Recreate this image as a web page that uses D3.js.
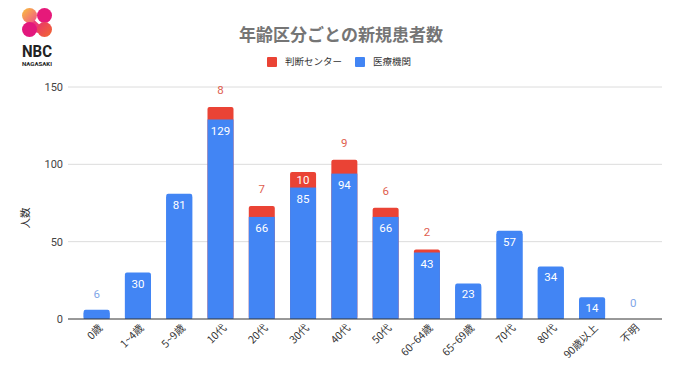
<!DOCTYPE html>
<html>
<head>
<meta charset="utf-8">
<script src="https://cdn.jsdelivr.net/npm/d3@7"></script>
<style>
  body { margin: 0; background: #fff; }
  text { font-family: Roboto, "Noto Sans CJK JP", sans-serif; }
</style>
</head>
<body>
<svg id="chart" width="680" height="382"></svg>
<script>
//chart data
var categories = ["0歳", "1~4歳", "5~9歳", "10代", "20代", "30代", "40代", "50代", "60~64歳", "65~69歳", "70代", "80代", "90歳以上", "不明"];
var clinicValues = [6, 30, 81, 129, 66, 85, 94, 66, 43, 23, 57, 34, 14, 0];   //医療機関
var centerValues = [0, 0, 0, 8, 7, 10, 9, 6, 2, 0, 0, 0, 0, 0];            //判断センター
var yTicks = [0, 50, 100, 150];
var seriesNames = ["判断センター", "医療機関"];

var blue = "#4285f4",
	red = "#ea4335",
	jpFont = "'Noto Sans CJK JP', sans-serif";

var svg = d3.select("#chart");

var x = d3.scaleBand()
	.domain(categories)
	.range([76, 654])
	.paddingInner(0.37)
	.paddingOuter(0.185);

var y = d3.scaleLinear()
	.domain([0, 150])
	.range([319, 87]);

//gridlines + y labels
svg.append("g").selectAll("line")
	.data(yTicks.filter(function(d){ return d > 0; }))
	.enter().append("line")
	.attr("x1", 68).attr("x2", 662)
	.attr("y1", function(d){ return y(d); })
	.attr("y2", function(d){ return y(d); })
	.attr("stroke", "#dcdcdc")
	.attr("stroke-width", 1);

svg.append("g").selectAll("text")
	.data(yTicks)
	.enter().append("text")
	.attr("x", 63)
	.attr("y", function(d){ return y(d); })
	.attr("dy", "0.35em")
	.attr("text-anchor", "end")
	.attr("font-size", 11)
	.attr("fill", "#444")
	.text(function(d){ return d; });

//bars
var rows = categories.map(function(c, i){
	return {cat: c, clinic: clinicValues[i], center: centerValues[i]};
});

var bars = svg.append("g");
rows.forEach(function(d){
	var bx = x(d.cat), bw = x.bandwidth();
	var total = d.clinic + d.center;
	if (d.center > 0) {
		//red on top, rounded top corners
		bars.append("rect")
			.attr("x", bx).attr("width", bw)
			.attr("y", y(total))
			.attr("height", y(0) - y(total))
			.attr("rx", 2)
			.attr("fill", red);
		bars.append("rect")
			.attr("x", bx).attr("width", bw)
			.attr("y", y(d.clinic))
			.attr("height", y(0) - y(d.clinic))
			.attr("fill", blue);
	} else if (d.clinic > 0) {
		bars.append("rect")
			.attr("x", bx).attr("width", bw)
			.attr("y", y(d.clinic))
			.attr("height", y(0) - y(d.clinic))
			.attr("rx", 2)
			.attr("fill", blue);
		bars.append("rect")
			.attr("x", bx).attr("width", bw)
			.attr("y", y(d.clinic) + 3)
			.attr("height", Math.max(0, y(0) - y(d.clinic) - 3))
			.attr("fill", blue);
	}
});

//value labels
var labels = svg.append("g").attr("font-size", 11.5);
rows.forEach(function(d){
	var cx = x(d.cat) + x.bandwidth() / 2;
	var hBlue = y(0) - y(d.clinic);
	if (hBlue >= 16) {
		labels.append("text").attr("x", cx).attr("y", y(d.clinic) + 11)
			.attr("dy", "0.35em").attr("text-anchor", "middle")
			.attr("fill", "#fff").text(d.clinic);
	} else if (d.center == 0) {
		labels.append("text").attr("x", cx).attr("y", y(d.clinic) - 16)
			.attr("dy", "0.35em").attr("text-anchor", "middle")
			.attr("fill", "#7fa6e8").text(d.clinic);
	}
	if (d.center > 0) {
		var top = y(d.clinic + d.center);
		var hRed = y(d.clinic) - top;
		if (hRed >= 15) {
			labels.append("text").attr("x", cx).attr("y", top + hRed / 2)
				.attr("dy", "0.35em").attr("text-anchor", "middle")
				.attr("fill", "#fff").text(d.center);
		} else {
			labels.append("text").attr("x", cx).attr("y", top - 17)
				.attr("dy", "0.35em").attr("text-anchor", "middle")
				.attr("fill", "#e0604f").text(d.center);
		}
	}
});

//x axis line
svg.append("line")
	.attr("x1", 68).attr("x2", 662)
	.attr("y1", y(0)).attr("y2", y(0))
	.attr("stroke", "#333").attr("stroke-width", 1);

//x labels rotated
svg.append("g").selectAll("text")
	.data(categories)
	.enter().append("text")
	.attr("transform", function(d){
		return "translate(" + (x(d) + x.bandwidth() / 2 + 4) + "," + (y(0) + 7) + ") rotate(-45)";
	})
	.attr("text-anchor", "end")
	.attr("dy", "0.35em")
	.attr("font-size", 10.5)
	.attr("fill", "#333")
	.style("font-family", jpFont)
	.text(function(d){ return d; });

//y axis title
svg.append("text")
	.attr("transform", "translate(25,218) rotate(-90)")
	.attr("text-anchor", "middle")
	.attr("dy", "0.35em")
	.attr("font-size", 10.5)
	.attr("fill", "#333")
	.style("font-family", jpFont)
	.text("人数");

//title
svg.append("text")
	.attr("x", 341).attr("y", 35)
	.attr("text-anchor", "middle")
	.attr("dy", "0.35em")
	.attr("font-size", 17)
	.attr("font-weight", "bold")
	.attr("fill", "#757575")
	.style("font-family", jpFont)
	.text("年齢区分ごとの新規患者数");

//legend
var legend = svg.append("g");
var legendPos = [267, 355];
seriesNames.forEach(function(name, i){
	legend.append("rect")
		.attr("x", legendPos[i]).attr("y", 57)
		.attr("width", 10).attr("height", 10)
		.attr("rx", 1)
		.attr("fill", i == 0 ? red : blue);
	legend.append("text")
		.attr("x", legendPos[i] + 18).attr("y", 62)
		.attr("dy", "0.35em")
		.attr("font-size", 9.5)
		.attr("fill", "#333")
		.style("font-family", jpFont)
		.text(name);
});

//NBC logo, top left
var logo = svg.append("g");
var defs = svg.append("defs");
var grad = defs.append("linearGradient").attr("id", "lg1")
	.attr("x1", 0).attr("y1", 0).attr("x2", 1).attr("y2", 1);
grad.append("stop").attr("offset", "0%").attr("stop-color", "#f9c23c");
grad.append("stop").attr("offset", "100%").attr("stop-color", "#f0508a");
var grad2 = defs.append("linearGradient").attr("id", "lg2")
	.attr("x1", 0).attr("y1", 0).attr("x2", 1).attr("y2", 1);
grad2.append("stop").attr("offset", "0%").attr("stop-color", "#e8336f");
grad2.append("stop").attr("offset", "100%").attr("stop-color", "#f26a2e");

logo.append("path")
	.attr("d", "M29.5,15.5 L44.5,29.5 L37,33 L25,20 Z")
	.attr("fill", "#ec3a78");
logo.append("circle").attr("cx", 29.5).attr("cy", 15.5).attr("r", 7.5).attr("fill", "url(#lg1)");
logo.append("circle").attr("cx", 44.5).attr("cy", 15.5).attr("r", 7.5).attr("fill", "#e6197a");
logo.append("circle").attr("cx", 29.5).attr("cy", 29.5).attr("r", 7.5).attr("fill", "#e2187d");
logo.append("circle").attr("cx", 44.5).attr("cy", 29.5).attr("r", 7.5).attr("fill", "url(#lg2)");

logo.append("text")
	.attr("x", 22).attr("y", 57)
	.attr("font-size", 17)
	.attr("font-weight", "bold")
	.attr("fill", "#222")
	.attr("textLength", 30)
	.attr("lengthAdjust", "spacingAndGlyphs")
	.text("NBC");
logo.append("text")
	.attr("x", 22).attr("y", 66)
	.attr("font-size", 6)
	.attr("font-weight", "bold")
	.attr("fill", "#222")
	.attr("textLength", 30)
	.attr("lengthAdjust", "spacingAndGlyphs")
	.text("NAGASAKI");
</script>
</body>
</html>
